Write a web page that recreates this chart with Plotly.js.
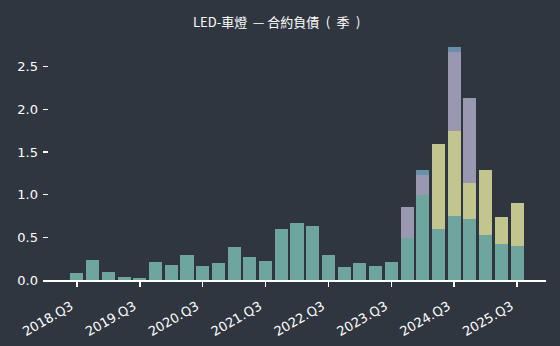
<!DOCTYPE html>
<html>
<head>
<meta charset="utf-8">
<script src="https://cdn.plot.ly/plotly-3.0.1.min.js"></script>
<style>html,body{margin:0;padding:0;background:#2f3640;}#chart{width:560px;height:346px;}</style>
</head>
<body>
<div id="chart"></div>
<script>
const quarters = ["2018.Q3","2018.Q4","2019.Q1","2019.Q2","2019.Q3","2019.Q4","2020.Q1","2020.Q2","2020.Q3","2020.Q4","2021.Q1","2021.Q2","2021.Q3","2021.Q4","2022.Q1","2022.Q2","2022.Q3","2022.Q4","2023.Q1","2023.Q2","2023.Q3","2023.Q4","2024.Q1","2024.Q2","2024.Q3","2024.Q4","2025.Q1","2025.Q2","2025.Q3"];
const seriesA = [0.082,0.234,0.094,0.035,0.023,0.211,0.176,0.293,0.164,0.199,0.387,0.27,0.223,0.598,0.668,0.633,0.293,0.152,0.199,0.164,0.211,0.49,0.996,0.598,0.75,0.715,0.527,0.422,0.398];
const seriesB = [0,0,0,0,0,0,0,0,0,0,0,0,0,0,0,0,0,0,0,0,0,0,0,0.996,0.997,0.422,0.763,0.317,0.505];
const seriesC = [0,0,0,0,0,0,0,0,0,0,0,0,0,0,0,0,0,0,0,0,0,0.366,0.234,0,0.926,0.996,0,0,0];
const seriesD = [0,0,0,0,0,0,0,0,0,0,0,0,0,0,0,0,0,0,0,0,0,0,0.06,0,0.062,0,0,0,0];
const tickLabels = ["2018.Q3","2019.Q3","2020.Q3","2021.Q3","2022.Q3","2023.Q3","2024.Q3","2025.Q3"];

const colors = ["#6ea59f","#c3c58e","#9a97b0","#6890a8"];
const all = [seriesA, seriesB, seriesC, seriesD];
const traces = all.map((s, i) => ({
  type: "bar",
  x: quarters,
  y: s,
  marker: {color: colors[i], line: {width: 0}},
  hoverinfo: "x+y"
}));

const layout = {
  width: 560, height: 346,
  paper_bgcolor: "#2f3640",
  plot_bgcolor: "#2f3640",
  barmode: "stack",
  bargap: 0.17,
  showlegend: false,
  margin: {l: 43, r: 14, t: 40, b: 66},
  font: {family: "DejaVu Sans, sans-serif", color: "#ffffff", size: 13},
  title: {
    text: "LED-車燈 \u2009— 合約負債\u2002(\u2002季\u2002)",
    font: {family: "Noto Sans CJK TC, Noto Sans, sans-serif", size: 13, color: "#ffffff"},
    xref: "container", yref: "container",
    x: 193/560, xanchor: "left", y: 1 - 22/346, yanchor: "middle"
  },
  xaxis: {
    type: "category",
    range: [-2.16, 29.84],
    tickmode: "array",
    tickvals: tickLabels,
    ticktext: tickLabels,
    tickangle: -30,
    ticks: "outside", ticklen: 5, tickwidth: 1.5, tickcolor: "#ffffff",
    showline: true, linecolor: "#ffffff", linewidth: 2,
    showgrid: false, zeroline: false,
    ticklabelstandoff: 7,
    ticklabelshift: -6,
    tickfont: {family: "DejaVu Sans, sans-serif", size: 13, color: "#ffffff"}
  },
  yaxis: {
    range: [0, 2.8125],
    tickvals: [0, 0.5, 1, 1.5, 2, 2.5],
    ticktext: ["0.0","0.5","1.0","1.5","2.0","2.5"],
    ticks: "inside", ticklen: 5, tickwidth: 1.5, tickcolor: "#ffffff",
    showline: false, showgrid: false, zeroline: false,
    ticklabelstandoff: 4,
    tickfont: {family: "DejaVu Sans, sans-serif", size: 13, color: "#ffffff"}
  }
};

Plotly.newPlot("chart", traces, layout, {displayModeBar: false, staticPlot: true});
</script>
</body>
</html>
